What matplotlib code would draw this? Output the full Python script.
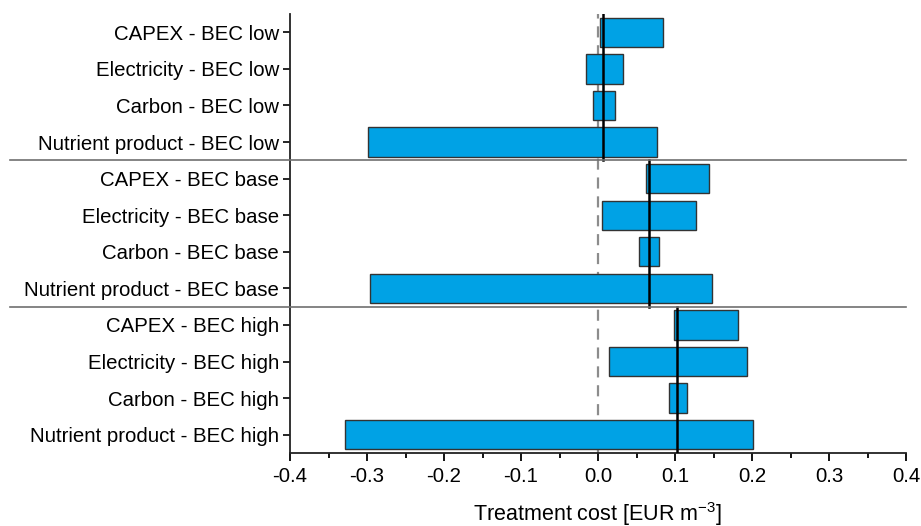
import matplotlib
matplotlib.use("Agg")
import matplotlib.pyplot as plt
from matplotlib.ticker import MultipleLocator
import matplotlib.transforms as mtransforms

plt.rcParams['font.family'] = ['Liberation Sans', 'DejaVu Sans']
plt.rcParams['mathtext.fontset'] = 'custom'
plt.rcParams['mathtext.rm'] = 'Liberation Sans'
plt.rcParams['mathtext.it'] = 'Liberation Sans:italic'
plt.rcParams['mathtext.bf'] = 'Liberation Sans:bold'

categories = [
    "CAPEX - BEC low", "Electricity - BEC low", "Carbon - BEC low", "Nutrient product - BEC low",
    "CAPEX - BEC base", "Electricity - BEC base", "Carbon - BEC base", "Nutrient product - BEC base",
    "CAPEX - BEC high", "Electricity - BEC high", "Carbon - BEC high", "Nutrient product - BEC high",
]
bar_left = [0.003, -0.016, -0.006, -0.299,
            0.062, 0.005, 0.053, -0.296,
            0.099, 0.014, 0.092, -0.328]
bar_right = [0.085, 0.032, 0.0215, 0.076,
             0.144, 0.1275, 0.079, 0.148,
             0.1815, 0.193, 0.115, 0.201]
group_baseline = [0.007, 0.0656, 0.103]
group_size = 4
xtick_values = [-0.4, -0.3, -0.2, -0.1, 0.0, 0.1, 0.2, 0.3, 0.4]
xtick_labels = ["-0.4", "-0.3", "-0.2", "-0.1", "0.0", "0.1", "0.2", "0.3", "0.4"]

fig = plt.figure(figsize=(9.21, 5.26), dpi=100)
ax = fig.add_axes([290/921, 73/526, 616/921, 439/526])

ypos = list(range(len(categories)))
widths = [r - l for l, r in zip(bar_left, bar_right)]
ax.barh(ypos, widths, left=bar_left, height=0.8, color='#00A2E5',
        edgecolor='#333333', linewidth=1.0, zorder=2)

ax.set_xlim(-0.4, 0.4)
ax.set_ylim(11.5, -0.5)

# zero dashed line
ax.axvline(0, color='#8c8c8c', linestyle=(0, (5, 3.5)), linewidth=1.6, zorder=1)

# group baselines
for g, b in enumerate(group_baseline):
    y0 = g * group_size - 0.5
    y1 = y0 + group_size
    ax.plot([b, b], [y0, y1], color='black', linewidth=1.8, zorder=3)

# separators
trans = mtransforms.blended_transform_factory(ax.transAxes, ax.transData)
x_start = (10 - 290) / 616
for g in range(1, len(group_baseline)):
    yy = g * group_size - 0.5
    ax.plot([x_start, 1.0], [yy, yy], color='#707070', linewidth=1.2,
            transform=trans, clip_on=False, zorder=4)

ax.set_yticks(ypos)
ax.set_yticklabels(categories, fontsize=14.7)
ax.xaxis.set_minor_locator(MultipleLocator(0.05))
ax.set_xticks(xtick_values)
ax.set_xticklabels(xtick_labels, fontsize=14.7)
ax.tick_params(axis='x', which='major', direction='out', length=6, width=1.3, pad=4)
ax.tick_params(axis='x', which='minor', direction='out', length=3.5, width=1.3)
ax.tick_params(axis='y', direction='out', length=5, width=1.2, pad=3)

for s in ['top', 'right']:
    ax.spines[s].set_visible(False)
for s in ['left', 'bottom']:
    ax.spines[s].set_linewidth(1.3)
    ax.spines[s].set_color('#222222')

ax.set_xlabel("Treatment cost [EUR m$^{-3}$]", fontsize=15.5, labelpad=10)

fig.savefig("out.png", dpi=100)
